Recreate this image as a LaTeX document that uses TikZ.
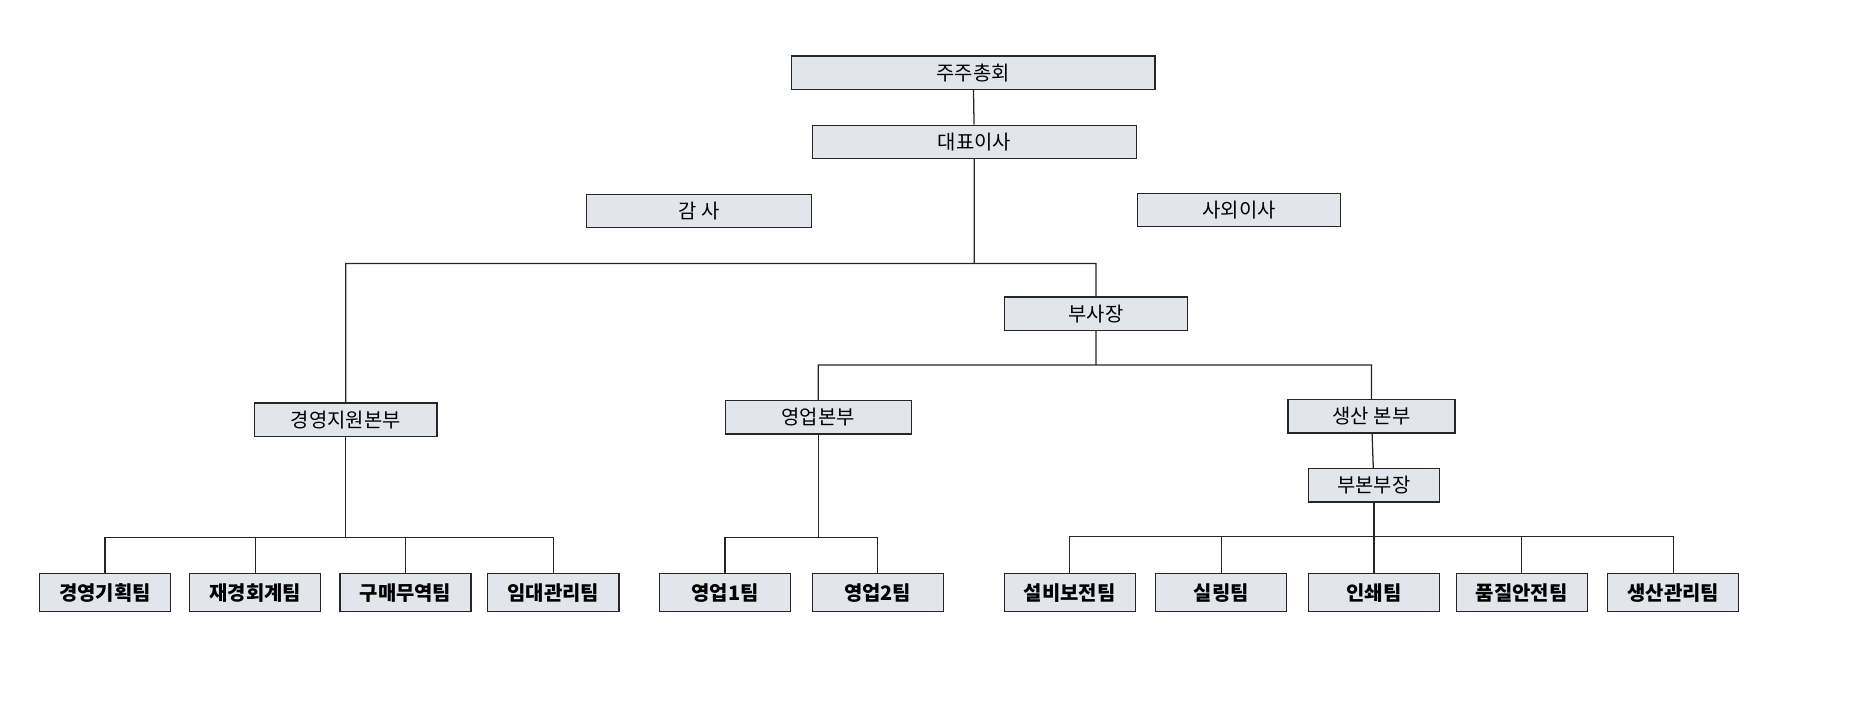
\documentclass[tikz,border=0pt]{standalone}
\usepackage{fontspec}
\setmainfont{Noto Sans CJK KR}
\usetikzlibrary{positioning}

\definecolor{boxfill}{RGB}{226,230,236}

\begin{document}
\begin{tikzpicture}
    [x=0.02cm,y=-0.02cm,
     unit/.style={draw=black!85,semithick,fill=boxfill,minimum height=0.56cm,
       inner sep=0pt,font=\fontsize{9.5}{10}\selectfont},
     team/.style={unit,minimum width=2.2cm,minimum height=0.64cm,
       font=\fontsize{9.5}{10}\selectfont\bfseries},
     link/.style={draw=black!85,semithick}]

    \useasboundingbox (0,0) rectangle (1568,587);

    \node[unit,minimum width=6.1cm] (agm) at (816,61) {주주총회};
    \node[unit,minimum width=5.44cm] (ceo) at (817,119) {대표이사};
    \node[unit,minimum width=3.78cm] (audit) at (586,177) {감 사};
    \node[unit,minimum width=3.4cm] (outdir) at (1039,176) {사외이사};
    \node[unit,minimum width=3.08cm] (vp) at (919,263) {부사장};
    \node[unit,minimum width=3.06cm] (mgmt) at (290,352) {경영지원본부};
    \node[unit,minimum width=3.12cm] (sales) at (686,350) {영업본부};
    \node[unit,minimum width=2.8cm] (prod) at (1150,349) {생산 본부};
    \node[unit,minimum width=2.2cm] (subhead) at (1152,407) {부본부장};

    \node[team] (t1) at (88,497) {경영기획팀};
    \node[team] (t2) at (214,497) {재경회계팀};
    \node[team] (t3) at (340,497) {구매무역팀};
    \node[team] (t4) at (464,497) {임대관리팀};
    \node[team] (s1) at (608,497) {영업1팀};
    \node[team] (s2) at (736,497) {영업2팀};
    \node[team] (p1) at (897,497) {설비보전팀};
    \node[team] (p2) at (1024,497) {실링팀};
    \node[team] (p3) at (1152,497) {인쇄팀};
    \node[team] (p4) at (1276,497) {품질안전팀};
    \node[team] (p5) at (1403,497) {생산관리팀};

    \coordinate (top) at (809,221);
    \coordinate (mid) at (925,306);

    \path[link]
    (agm) -- (ceo)
    (ceo) |- (top)
    (top) -| (mgmt)
    (top) -| (vp)
    (vp) |- (mid)
    (mid) -| (sales)
    (mid) -| (prod)
    (prod) -- (subhead)
    ;

    % teams
    \foreach \t in {t1,t2,t3,t4}
      \draw[link] (mgmt.south) |- (\t |- 0,451) -- (\t.north);
    \foreach \t in {s1,s2}
      \draw[link] (sales.south) |- (\t |- 0,451) -- (\t.north);
    \foreach \t in {p1,p2,p3,p4,p5}
      \draw[link] (subhead.south) |- (\t |- 0,450) -- (\t.north);

\end{tikzpicture}
\end{document}
